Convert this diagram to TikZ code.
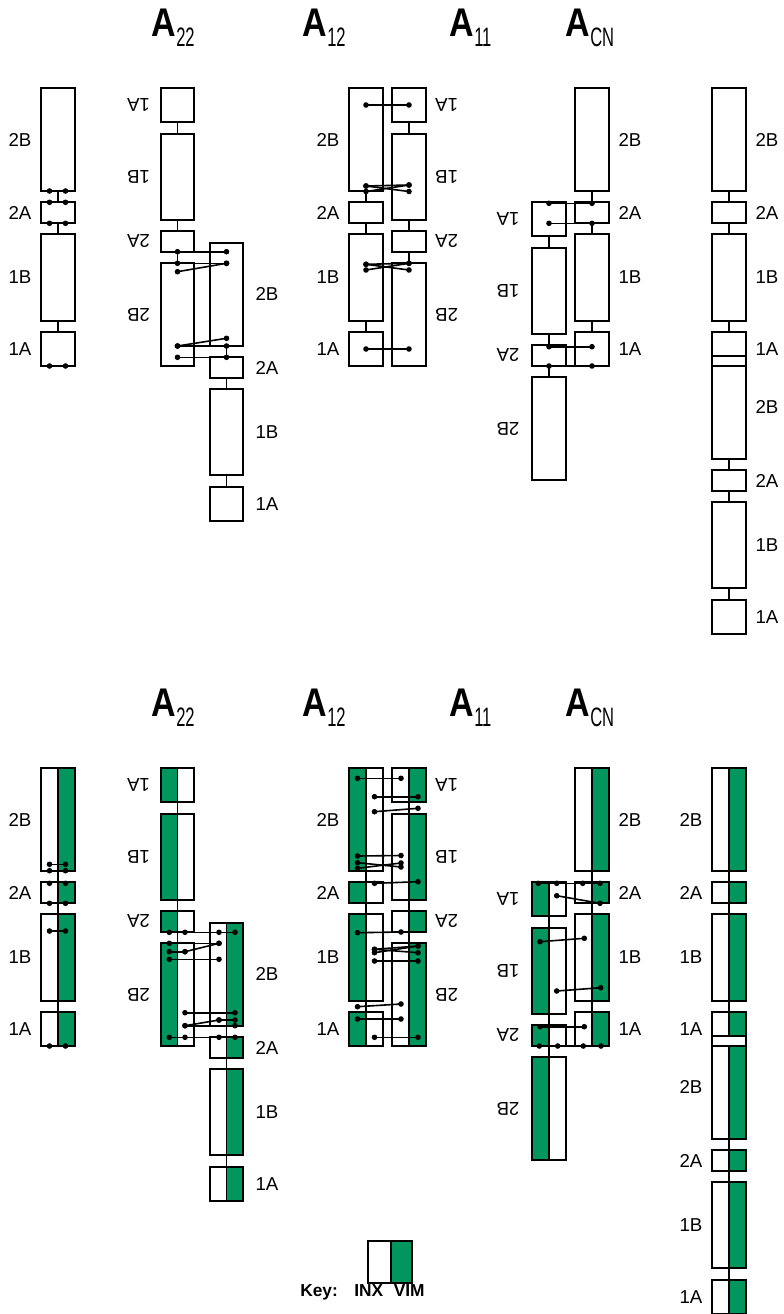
\documentclass[tikz,border=0pt]{standalone}
\usepackage{fontspec}
\setmainfont{Liberation Sans}
\definecolor{vim}{RGB}{0,150,94}
\tikzset{
 segst/.style={draw=black,line width=1.6pt},
 linkst/.style={draw=black,line width=1.4pt},
 pairst/.style={draw=black,line width=1.2pt},
 labst/.style={inner sep=0pt,font=\fontsize{14}{16}\selectfont},
 titst/.style={inner sep=0pt,anchor=base west,font=\bfseries\fontsize{30}{32}\selectfont},
 subst/.style={inner sep=0pt,anchor=base west,font=\fontsize{20}{22}\selectfont},
 keyst/.style={inner sep=0pt,anchor=base west,font=\bfseries\fontsize{13}{15}\selectfont},
}
\newcommand\segbox[4]{\draw[segst] (#1,#3) rectangle (#2,#4);}
\newcommand\gfill[4]{\fill[vim] (#1,#3) rectangle (#2,#4);}
\newcommand\vlink[3]{\draw[linkst] (#1,#2) -- (#1,#3);}
\newcommand\dotpt[2]{\fill (#1,#2) circle[radius=2.1pt];}
\newcommand\pairln[4]{\draw[pairst] (#1,#2) -- (#3,#4); \dotpt{#1}{#2}\dotpt{#3}{#4}}
\newcommand\labn[3]{\node[labst] at (#1,#2) {#3};}
\newcommand\labr[3]{\node[labst,rotate=180] at (#1,#2) {#3};}
% normal chromosome: x1 x2 xc offset
\newcommand\normchr[4]{\begin{scope}[shift={(0,#4)}]
 \segbox{#1}{#2}{88.3}{191}\segbox{#1}{#2}{202.3}{223.3}\segbox{#1}{#2}{234.3}{320.7}\segbox{#1}{#2}{332.3}{366}
 \vlink{#3}{191}{202.3}\vlink{#3}{223.3}{234.3}\vlink{#3}{320.7}{332.3}
\end{scope}}
\newcommand\invchr[4]{\begin{scope}[shift={(0,#4)}]
 \segbox{#1}{#2}{88.3}{122}\segbox{#1}{#2}{133.6}{220}\segbox{#1}{#2}{231}{252}\segbox{#1}{#2}{263.3}{366}
 \vlink{#3}{122}{133.6}\vlink{#3}{220}{231}\vlink{#3}{252}{263.3}
\end{scope}}
\newcommand\normfill[3]{\begin{scope}[shift={(0,#3)}]
 \gfill{#1}{#2}{88.3}{191}\gfill{#1}{#2}{202.3}{223.3}\gfill{#1}{#2}{234.3}{320.7}\gfill{#1}{#2}{332.3}{366}
\end{scope}}
\newcommand\invfill[3]{\begin{scope}[shift={(0,#3)}]
 \gfill{#1}{#2}{88.3}{122}\gfill{#1}{#2}{133.6}{220}\gfill{#1}{#2}{231}{252}\gfill{#1}{#2}{263.3}{366}
\end{scope}}
\newcommand\normlab[2]{\begin{scope}[shift={(0,#2)}]
 \labn{#1}{139.7}{2B}\labn{#1}{212.8}{2A}\labn{#1}{277.5}{1B}\labn{#1}{349.2}{1A}
\end{scope}}
\newcommand\invlab[2]{\begin{scope}[shift={(0,#2)}]
 \labr{#1}{105.2}{1A}\labr{#1}{176.8}{1B}\labr{#1}{241.5}{2A}\labr{#1}{314.7}{2B}
\end{scope}}
\newcommand\titles{%
 \node[titst] (ta) at (151.7,36.7) {\scalebox{0.85}[1]{A}}; \node[subst] (sa) at (176,46.7) {\scalebox{0.62}[1]{22}};
 \node[titst] (tb) at (302,36.7) {\scalebox{0.85}[1]{A}}; \node[subst] (sb) at (327,46.7) {\scalebox{0.62}[1]{12}};
 \node[titst] (tc) at (449,36.7) {\scalebox{0.85}[1]{A}}; \node[subst] (sc) at (474,46.7) {\scalebox{0.62}[1]{11}};
 \node[titst] (td) at (565.7,36.7) {\scalebox{0.85}[1]{A}}; \node[subst] (sd) at (590,46.7) {\scalebox{0.62}[1]{CN}};
}
\newcommand\allchr{%
 \normchr{41}{75}{58}{0}
 \invchr{161}{194}{177.5}{0}
 \normchr{210}{243}{226.5}{154.7}
 \normchr{349}{383}{366}{0}
 \invchr{392}{426}{409}{0}
 \invchr{532}{566}{549}{114}
 \normchr{575}{609}{592}{0}
 \normchr{712}{746}{729}{0}
 \normchr{712}{746}{729}{267.7}
}
\begin{document}
\begin{tikzpicture}[x=0.75pt,y=-0.75pt]
\useasboundingbox (0,0) rectangle (783,1314);
%================ TOP PANEL ================
\titles
\allchr
\normlab{20}{0}
\invlab{138.5}{0}
\normlab{267}{154.7}
\normlab{328}{0}
\invlab{446.7}{0}
\invlab{508}{114}
\normlab{630}{0}
\normlab{767}{0}
\normlab{767}{267.7}
% chr 1 dots
\dotpt{49.5}{191}\dotpt{65.5}{191}\dotpt{49.5}{202.3}\dotpt{65.5}{202.3}
\dotpt{49.5}{223.3}\dotpt{65.5}{223.3}\dotpt{49.5}{366}\dotpt{65.5}{366}
% A22
\pairln{177.5}{251.7}{226.5}{251.7}
\pairln{177.5}{263.3}{226.5}{263.3}
\pairln{177.5}{271.7}{226.5}{263.3}
\pairln{177.5}{346}{226.5}{338.3}
\pairln{177.5}{346}{226.5}{346}
\pairln{177.5}{357.3}{226.5}{357.3}
% A12
\pairln{366}{105}{409}{105}
\pairln{366}{186}{409}{185}
\pairln{366}{191.5}{409}{185}
\pairln{366}{186}{409}{191.5}
\pairln{366}{264.3}{409}{263.3}
\pairln{366}{270}{409}{263.3}
\pairln{366}{264.3}{409}{270}
\pairln{366}{349}{409}{349}
% A11
\pairln{549}{203.3}{592}{203.3}
\pairln{549}{223.3}{592}{223.3}
\pairln{549}{346.7}{592}{346.7}
\pairln{549}{366}{592}{366}
%================ BOTTOM PANEL ================
\begin{scope}[shift={(0,680)}]
\titles
\normfill{58}{75}{0}
\invfill{161}{177.5}{0}
\normfill{226.5}{243}{154.7}
\normfill{349}{366}{0}
\invfill{409}{426}{0}
\invfill{532}{549}{114}
\normfill{592}{609}{0}
\normfill{729}{746}{0}
\normfill{729}{746}{267.7}
\fill[white] (712,356) rectangle (746,366);
\allchr
\vlink{58}{88.3}{366}
\vlink{177.5}{88.3}{366}
\vlink{226.5}{242.9}{520.7}
\vlink{366}{88.3}{366}
\vlink{409}{88.3}{366}
\vlink{549}{202.3}{480}
\vlink{592}{88.3}{366}
\vlink{729}{88.3}{356}
\vlink{729}{366}{634}
\normlab{20}{0}
\invlab{138.5}{0}
\normlab{267}{154.7}
\normlab{328}{0}
\invlab{446.7}{0}
\invlab{508}{114}
\normlab{630}{0}
\normlab{691}{0}
\normlab{691}{267.7}
% chr 1
\pairln{49.5}{184.3}{65.5}{184.3}
\dotpt{49.5}{190.7}\dotpt{65.5}{190.7}\dotpt{49.5}{203.3}\dotpt{65.5}{203.3}
\dotpt{49.5}{223.3}\dotpt{65.5}{223.3}
\pairln{49.5}{251}{65.5}{251}
\dotpt{49.5}{366}\dotpt{65.5}{366}
% A22
\pairln{169.3}{252.3}{235}{252.3}\dotpt{185}{252.3}\dotpt{219}{252.3}
\pairln{169.3}{263.3}{219}{263.3}
\pairln{169.3}{271.7}{185}{271.7}
\pairln{185}{271.7}{219}{263.3}
\pairln{169.3}{279.3}{219}{279.3}
\pairln{185}{332.7}{235}{332.7}
\pairln{185}{345.7}{219}{340}
\pairln{219}{340}{235}{340}
\pairln{185}{345.7}{235}{345.7}
\pairln{169.3}{357.3}{235}{357.3}\dotpt{185}{357.3}\dotpt{219}{357.3}
% A12
\pairln{357.5}{98.3}{401}{98.3}
\pairln{374.5}{116.7}{418}{116.7}
\pairln{374.5}{131.7}{418}{128.3}
\pairln{357.5}{176}{401}{175.5}
\pairln{357.5}{182.7}{401}{187}
\pairln{357.5}{188.3}{401}{183}
\pairln{374.5}{203.3}{418}{201.7}
\pairln{357.5}{252.7}{401}{252}
\pairln{374.5}{269.3}{418}{266}
\pairln{374.5}{272.7}{418}{266}
\pairln{374.5}{269.3}{418}{272.7}
\pairln{374.5}{281}{418}{281}
\pairln{357.5}{326.7}{401}{324}
\pairln{357.5}{339}{401}{339}
\pairln{374.5}{357.3}{418}{357.3}
% A11
\pairln{538.3}{203.3}{600}{203.3}\dotpt{556.7}{203.3}\dotpt{582.7}{203.3}
\pairln{556.7}{215.7}{600}{223.3}
\pairln{540}{261.7}{584.3}{258.3}
\pairln{556.7}{311}{600.7}{307.7}
\pairln{540}{346.7}{584.3}{346.7}
\pairln{539.3}{366}{601}{366}\dotpt{557.7}{366}\dotpt{583.3}{366}
\end{scope}
%================ KEY ================
\fill[vim] (390.7,1240.7) rectangle (411.7,1283.3);
\draw[segst] (368.3,1240.7) rectangle (411.7,1283.3);
\draw[linkst] (390.7,1240.7) -- (390.7,1283.3);
\node[keyst] (k0) at (300,1296.7) {Key:};
\node[keyst] (k1) at (354,1296.7) {INX};
\node[keyst] (k2) at (393.5,1296.7) {VIM};
\end{tikzpicture}
\end{document}
